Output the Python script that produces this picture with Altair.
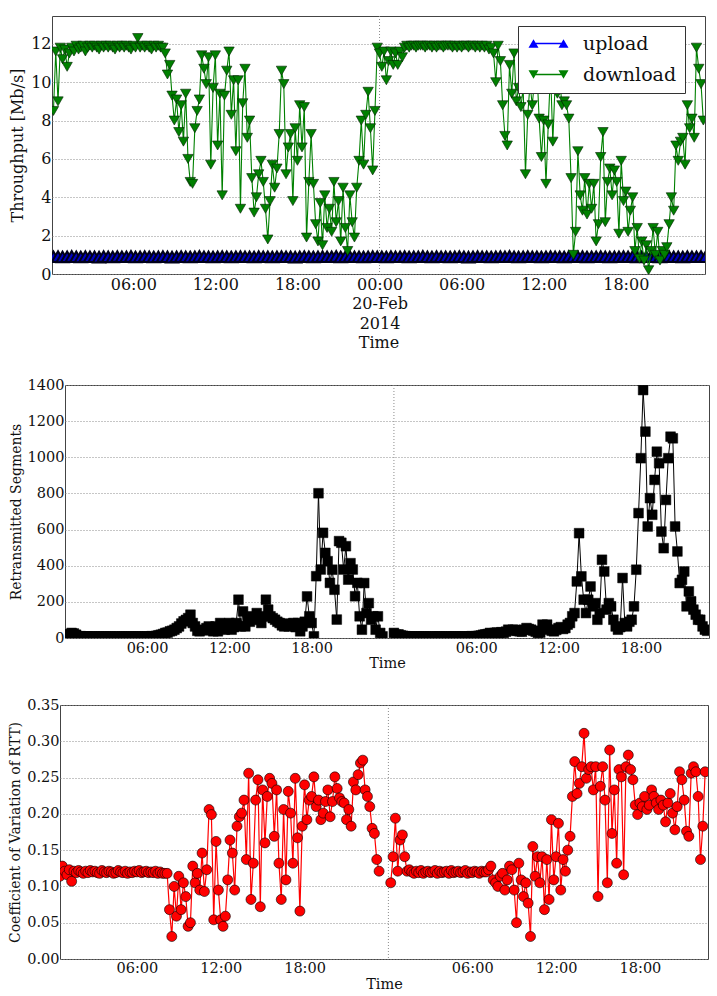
import altair as alt
import pandas as pd

FONT = "DejaVu Serif"
BASE = 1392768000000  # 2014-02-19 00:00 UTC, ms
MIN = 60000
HOUR = 3600000

# ---------------- Panel 1: throughput (Mb/s), 10-min samples from 00:10 on 19-Feb
DOWNLOAD_START_MIN = 10
DOWNLOAD = [
    8.5, 11.6, 9.0, 11.8, 11.2,
    11.7, 10.8, 11.5, 11.8, 11.6, 11.9,
    11.7, 11.8, 11.9, 11.6, 11.8, 11.9,
    11.8, 11.9, 11.8, 11.7, 11.9, 11.8,
    11.9, 11.8, 11.9, 11.8, 11.7, 11.9,
    11.8, 11.9, 11.8, 11.9, 11.8, 11.7,
    11.9, 11.8, 12.3, 11.8, 11.9, 11.8,
    11.9, 11.8, 11.7, 11.9, 11.8, 11.9,
    11.8, 11.8, 11.5, 10.4, 10.9, 9.3,
    8.0, 9.1, 7.4, 8.8, 6.9, 9.4,
    6.0, 4.8, 4.7, 7.6, 8.5, 9.1,
    11.4, 10.7, 9.9, 11.3, 5.7, 9.7,
    11.4, 6.7, 9.4, 4.1, 9.3, 10.6,
    11.6, 8.3, 10.1, 6.4, 10.1, 3.4,
    8.9, 10.7, 7.1, 8.0, 5.0, 3.2,
    4.0, 5.2, 5.9, 4.8, 3.4, 1.8,
    3.8, 5.7, 4.5, 5.5, 7.3, 10.6,
    9.9, 5.2, 6.6, 7.3, 3.8, 7.6,
    5.9, 8.8, 6.6, 8.7, 1.9, 4.8,
    7.3, 4.7, 2.6, 1.7, 3.7, 1.5,
    4.1, 2.4, 3.4, 2.2, 4.8, 2.7,
    3.8, 1.7, 4.5, 2.4, 1.2, 4.1,
    2.7, 1.9, 4.5, 5.9, 8.0, 5.7,
    8.3, 9.5, 7.6, 5.4, 8.5, 11.8,
    # 20-Feb
    11.5, 10.8, 11.6, 10.1, 11.1, 11.6,
    10.9, 11.5, 10.9, 11.6, 11.3, 11.8,
    11.9, 11.8, 11.9, 11.9, 11.8, 11.9,
    11.9, 11.9, 11.8, 11.9, 11.9, 11.8,
    11.9, 11.8, 11.9, 11.9, 11.8, 11.9,
    11.9, 11.9, 11.8, 11.9, 11.8, 11.9,
    11.8, 11.9, 11.9, 11.8, 11.9, 11.9,
    11.8, 11.9, 11.8, 11.9, 11.8, 11.9,
    11.7, 11.8, 11.5, 10.0, 11.9, 11.1,
    8.8, 7.2, 6.7, 10.9, 9.4, 11.5,
    9.0, 9.7, 8.7, 9.7, 5.2, 8.3,
    9.9, 8.8, 10.2, 10.7, 8.1, 6.1,
    8.0, 4.7, 7.8, 10.6, 6.9, 9.9,
    9.4, 10.2, 8.8, 9.0, 8.8, 8.1,
    5.0, 1.0, 2.2, 6.4, 4.1, 3.3,
    5.0, 3.1, 4.7, 3.4, 4.7, 1.7,
    2.6, 6.1, 7.4, 2.7, 4.8, 5.5,
    4.1, 5.4, 4.8, 2.1, 5.9, 3.8,
    4.3, 2.2, 3.3, 4.0, 1.2, 2.4,
    0.8, 1.7, 0.7, 1.5, 0.2, 1.2,
    2.4, 1.0, 2.2, 0.7, 1.2, 1.0,
    1.4, 2.6, 4.0, 3.3, 6.7, 5.9,
    6.9, 7.1, 5.7, 8.8, 7.6, 8.1,
    7.1, 11.8, 10.7, 9.9, 8.0,
]
UPLOAD_START_MIN = 10
UPLOAD_STEP_MIN = 20
UPLOAD = [
    0.90, 0.91, 0.89, 0.90, 0.92, 0.90, 0.89, 0.91, 0.90, 0.90, 0.88, 0.91,
    0.90, 0.89, 0.91, 0.90, 0.90, 0.92, 0.89, 0.90, 0.91, 0.90, 0.89, 0.90,
    0.91, 0.90, 0.88, 0.90, 0.91, 0.90, 0.89, 0.90, 0.92, 0.90, 0.90, 0.89,
    0.90, 0.91, 0.90, 0.89, 0.90, 0.91, 0.90, 0.90, 0.89, 0.91, 0.90, 0.90,
    0.89, 0.90, 0.91, 0.90, 0.90, 0.88, 0.90, 0.91, 0.90, 0.89, 0.90, 0.91,
    0.90, 0.90, 0.92, 0.89, 0.90, 0.91, 0.90, 0.90, 0.89, 0.90, 0.91, 0.90,
    0.90, 0.89, 0.91, 0.90, 0.90, 0.91, 0.89, 0.90, 0.90, 0.92, 0.90, 0.89,
    0.91, 0.90, 0.90, 0.89, 0.90, 0.91, 0.90, 0.88, 0.90, 0.91, 0.90, 0.90,
    0.89, 0.90, 0.91, 0.90, 0.92, 0.90, 0.89, 0.90, 0.91, 0.90, 0.90, 0.89,
    0.90, 0.91, 0.90, 0.90, 0.89, 0.91, 0.90, 0.90, 0.91, 0.89, 0.90, 0.90,
    0.91, 0.90, 0.89, 0.90, 0.90, 0.91, 0.90, 0.92, 0.89, 0.90, 0.90, 0.91,
    0.90, 0.89, 0.90, 0.91, 0.90, 0.90, 0.89, 0.91, 0.90, 0.90, 0.91, 0.90,
]
P1_TICKS_H = [6, 12, 18, 24, 30, 36, 42]
P1_DOMAIN_H = [0.06, 47.79]
P1_YTICKS = [0, 2, 4, 6, 8, 10, 12]
P1_YMAX = 13.45

# ---------------- Panel 2: retransmitted segments, 10-min samples
RETX_DAY1_START_MIN = 0
RETX_DAY1 = [
    18, 18, 20, 28, 25, 18,
    9, 10, 8, 9, 9, 8,
    8, 9, 7, 8, 9, 8,
    8, 7, 9, 8, 8, 7,
    8, 9, 8, 7, 8, 9,
    8, 8, 9, 8, 7, 8,
    9, 8, 10, 9, 12, 15,
    18, 22, 28, 30, 37, 40,
    46, 55, 64, 80, 92, 100,
    110, 129, 83, 64, 40, 37,
    46, 42, 55, 64, 50, 37,
    64, 37, 83, 70, 46, 60,
    83, 46, 60, 83, 212, 64,
    147, 64, 101, 90, 120, 110,
    138, 100, 83, 120, 212, 157,
    120, 110, 101, 90, 83, 70,
    64, 80, 64, 70, 83, 60,
    83, 37, 64, 90, 230, 120,
    83, 9, 342, 801, 379, 582,
    471, 425, 305, 378, 267, 102,
    536, 527, 379, 508, 323, 414,
    379, 231, 305, 120, 46, 304,
    138, 193, 101, 120, 46, 120,
    28, 9,
]
RETX_DAY2_START_MIN = 1440
RETX_DAY2 = [
    28, 18, 20, 15, 12, 10,
    9, 8, 9, 8, 9, 8,
    8, 9, 8, 7, 8, 9,
    8, 8, 9, 8, 7, 8,
    9, 8, 8, 9, 8, 8,
    9, 8, 8, 9, 10, 9,
    10, 12, 14, 18, 20, 22,
    28, 25, 28, 30, 28, 32,
    28, 35, 46, 40, 46, 45,
    40, 37, 35, 46, 55, 50,
    46, 40, 35, 28, 30, 74,
    60, 74, 46, 40, 37, 45,
    55, 60, 50, 55, 74, 83,
    120, 138, 313, 580, 341, 212,
    138, 212, 285, 175, 193, 101,
    138, 433, 368, 157, 193, 175,
    101, 64, 46, 60, 332, 83,
    64, 90, 101, 175, 378, 691,
    995, 1372, 1142, 617, 774, 682,
    875, 1031, 967, 589, 497, 764,
    995, 1114, 1105, 617, 479, 304,
    322, 368, 175, 258, 203, 157,
    129, 101, 101, 64, 46, 40,
]
P2_TICKS_H = [6, 12, 18, 30, 36, 42]
P2_DOMAIN_H = [0.02, 46.97]
P2_YTICKS = [0, 200, 400, 600, 800, 1000, 1200, 1400]

# ---------------- Panel 3: coefficient of variation of RTT, 10-min samples
CV_DAY1_START_MIN = 30
CV_DAY1 = [
    0.114, 0.128, 0.121,
    0.116, 0.123, 0.107, 0.121, 0.119, 0.122,
    0.120, 0.118, 0.121, 0.119, 0.122, 0.120,
    0.121, 0.119, 0.118, 0.122, 0.120, 0.119,
    0.121, 0.120, 0.118, 0.119, 0.122, 0.120,
    0.119, 0.121, 0.118, 0.120, 0.119, 0.121,
    0.120, 0.122, 0.119, 0.120, 0.121, 0.119,
    0.120, 0.119, 0.121, 0.118, 0.120, 0.118,
    0.118, 0.118, 0.068, 0.031, 0.100, 0.059,
    0.114, 0.068, 0.105, 0.086, 0.045, 0.050,
    0.128, 0.105, 0.118, 0.095, 0.146, 0.093,
    0.123, 0.206, 0.199, 0.054, 0.162, 0.095,
    0.054, 0.045, 0.059, 0.109, 0.164, 0.146,
    0.095, 0.183, 0.196, 0.201, 0.219, 0.137,
    0.256, 0.082, 0.132, 0.219, 0.247, 0.072,
    0.233, 0.160, 0.224, 0.249, 0.242, 0.169,
    0.233, 0.132, 0.082, 0.206, 0.109, 0.231,
    0.201, 0.132, 0.249, 0.167, 0.066, 0.183,
    0.240, 0.192, 0.219, 0.224, 0.251, 0.210,
    0.219, 0.192, 0.201, 0.217, 0.233, 0.196,
    0.217, 0.251, 0.235, 0.222, 0.217, 0.215,
    0.192, 0.206, 0.183, 0.244, 0.233, 0.254,
    0.270, 0.274, 0.233, 0.224, 0.210, 0.180,
    0.173, 0.137, 0.121,
]
CV_DAY2_START_MIN = 1450
CV_DAY2 = [
    0.105, 0.141, 0.194, 0.121, 0.164,
    0.171, 0.141, 0.121, 0.123, 0.120, 0.118,
    0.121, 0.119, 0.122, 0.118, 0.120, 0.121,
    0.119, 0.120, 0.122, 0.118, 0.121, 0.119,
    0.120, 0.121, 0.118, 0.122, 0.119, 0.120,
    0.121, 0.119, 0.120, 0.122, 0.118, 0.120,
    0.119, 0.121, 0.120, 0.118, 0.121, 0.120,
    0.120, 0.123, 0.128, 0.109, 0.105, 0.100,
    0.114, 0.118, 0.095, 0.109, 0.128, 0.123,
    0.095, 0.050, 0.132, 0.109, 0.086, 0.105,
    0.077, 0.031, 0.155, 0.114, 0.141, 0.105,
    0.141, 0.068, 0.137, 0.082, 0.192, 0.109,
    0.141, 0.187, 0.095, 0.137, 0.121, 0.150,
    0.169, 0.224, 0.272, 0.228, 0.242, 0.265,
    0.311, 0.249, 0.261, 0.265, 0.233, 0.265,
    0.086, 0.238, 0.265, 0.219, 0.105, 0.288,
    0.173, 0.233, 0.132, 0.261, 0.251, 0.116,
    0.265, 0.281, 0.261, 0.247, 0.212, 0.199,
    0.215, 0.210, 0.224, 0.206, 0.212, 0.233,
    0.224, 0.215, 0.206, 0.219, 0.212, 0.189,
    0.215, 0.228, 0.201, 0.178, 0.210, 0.258,
    0.247, 0.219, 0.176, 0.169, 0.256, 0.265,
    0.258, 0.224, 0.137, 0.183, 0.258,
]
P3_TICKS_H = [6, 12, 18, 30, 36, 42]
P3_DOMAIN_H = [0.5, 46.87]
P3_YTICKS = [0, 0.05, 0.10, 0.15, 0.20, 0.25, 0.30, 0.35]

MIDNIGHT_H = [24]
SERIES = ["upload", "download"]
SERIES_COLORS = ["#0000ff", "#008000"]

# legend symbols: line with a marker at each end (unit coords, r = sqrt(size)/2)
UP_PATH = "M-3,-0.87L-2,0.87L-4,0.87Z M3,-0.87L4,0.87L2,0.87Z M-3,-0.15L3,-0.15L3,0.15L-3,0.15Z"
DOWN_PATH = "M-4,-0.87L-2,-0.87L-3,0.87Z M2,-0.87L4,-0.87L3,0.87Z M-3,-0.15L3,-0.15L3,0.15L-3,0.15Z"


def frame(values, start_min, step_min, seg):
    return pd.DataFrame({
        "t": [BASE + (start_min + i * step_min) * MIN for i in range(len(values))],
        "v": values,
        "seg": seg,
    })


def hours(hs):
    return [BASE + int(h * HOUR) for h in hs]


def x_enc(domain_h, ticks_h, label_expr, fs, label_pad, title_pad, line_h):
    return alt.X(
        "t:T",
        scale=alt.Scale(type="utc", domain=hours(domain_h)),
        axis=alt.Axis(
            values=hours(ticks_h), labelExpr=label_expr, grid=False, ticks=False,
            domain=False, labelFont=FONT, labelFontSize=fs, labelColor="#111",
            labelPadding=label_pad, labelLineHeight=line_h, labelOverlap=False,
            labelFlush=False, title="Time", titleFont=FONT, titleFontSize=fs,
            titleFontWeight="normal", titleColor="#111", titlePadding=title_pad,
        ),
    )


def y_enc(ymax, ticks, fmt, title, fs, tfs, title_pad):
    return alt.Y(
        "v:Q",
        scale=alt.Scale(domain=[0, ymax], nice=False, zero=True),
        axis=alt.Axis(
            values=ticks, format=fmt, grid=True, gridDash=[1, 2], gridColor="#8c8c8c",
            gridWidth=1, ticks=False, domain=False, labelFont=FONT, labelFontSize=fs,
            labelColor="#111", labelPadding=1, labelFlush=False, title=title,
            titleFont=FONT, titleFontSize=tfs, titleFontWeight="normal",
            titleColor="#111", titlePadding=title_pad,
        ),
    )


def midnight_rule(X):
    df = pd.DataFrame({"t": hours(MIDNIGHT_H)})
    return alt.Chart(df).mark_rule(color="#8c8c8c", strokeDash=[1, 2], strokeWidth=1).encode(x=X)


def spacer(w):
    return alt.Chart(pd.DataFrame({"z": [0]})).mark_point(opacity=0).properties(
        width=w, height=10, view=alt.ViewBackground(stroke="transparent"))


# ---------- Panel 1
X1 = x_enc(P1_DOMAIN_H, P1_TICKS_H,
           "utchours(datum.value) == 0 ? [utcFormat(datum.value, '%H:%M'), utcFormat(datum.value, '%d-%b'), utcFormat(datum.value, '%Y')] : utcFormat(datum.value, '%H:%M')",
           16, 2, 3, 19.5)
Y1 = y_enc(P1_YMAX, P1_YTICKS, "d", "Throughput [Mb/s]", 16, 16, 5)

up_df = frame(UPLOAD, UPLOAD_START_MIN, UPLOAD_STEP_MIN, "u")
dn_df = frame(DOWNLOAD, DOWNLOAD_START_MIN, 10, "d")
leg_df = pd.DataFrame({"series": SERIES, "t": hours([1, 1]), "v": [1, 1]})

p1 = alt.layer(
    midnight_rule(X1),
    alt.Chart(up_df).mark_line(color="#0000ff", strokeWidth=1, clip=True).encode(x=X1, y=Y1),
    alt.Chart(up_df).mark_point(shape="triangle-up", filled=True, fill="#0000c0", stroke="#00001a",
                                strokeWidth=2.0, size=150, opacity=1, clip=True).encode(x=X1, y=Y1),
    alt.Chart(dn_df).mark_line(color="#008000", strokeWidth=1.1, clip=True).encode(x=X1, y=Y1),
    alt.Chart(dn_df).mark_point(shape="triangle-down", filled=True, fill="#008000", stroke="#002200",
                                strokeWidth=0.6, size=108, opacity=1, clip=True).encode(x=X1, y=Y1),
    alt.Chart(leg_df).transform_filter("false").mark_point(filled=True, opacity=1, size=100).encode(
        x=X1, y=Y1,
        color=alt.Color("series:N", scale=alt.Scale(domain=SERIES, range=SERIES_COLORS),
                        legend=alt.Legend(orient="none", legendX=517, legendY=10, title=None,
                                          padding=8, fillColor="white", strokeColor="#333",
                                          symbolSize=100, symbolOffset=13, labelOffset=25,
                                          symbolStrokeWidth=0, labelFont=FONT, labelFontSize=19,
                                          labelColor="#111", rowPadding=11, labelLimit=300)),
        shape=alt.Shape("series:N", scale=alt.Scale(domain=SERIES, range=[UP_PATH, DOWN_PATH])),
    ),
).properties(width=653, height=258)

# ---------- Panel 2
X2 = x_enc(P2_DOMAIN_H, P2_TICKS_H, "utcFormat(datum.value, '%H:%M')", 14.5, 3, 2, 16)
Y2 = y_enc(1400, P2_YTICKS, "d", "Retransmitted Segments", 14.5, 14, 4)
r_df = pd.concat([frame(RETX_DAY1, RETX_DAY1_START_MIN, 10, "a"),
                  frame(RETX_DAY2, RETX_DAY2_START_MIN, 10, "b")])
p2 = alt.layer(
    midnight_rule(X2),
    alt.Chart(r_df).mark_line(color="#000000", strokeWidth=1, clip=True).encode(x=X2, y=Y2, detail="seg:N"),
    alt.Chart(r_df).mark_point(shape="square", filled=True, fill="#000000", stroke="#000000",
                               strokeWidth=0.5, size=95, opacity=1, clip=True).encode(x=X2, y=Y2),
).properties(width=644, height=253)

# ---------- Panel 3
X3 = x_enc(P3_DOMAIN_H, P3_TICKS_H, "utcFormat(datum.value, '%H:%M')", 14.5, 2, 3, 16)
Y3 = y_enc(0.35, P3_YTICKS, ".2f", "Coefficient of Variation of RTT)", 14.5, 14, 4.5)
c_df = pd.concat([frame(CV_DAY1, CV_DAY1_START_MIN, 10, "a"),
                  frame(CV_DAY2, CV_DAY2_START_MIN, 10, "b")])
p3 = alt.layer(
    midnight_rule(X3),
    alt.Chart(c_df).mark_line(color="#ff0000", strokeWidth=1.2, clip=True).encode(x=X3, y=Y3, detail="seg:N"),
    alt.Chart(c_df).mark_point(shape="circle", filled=True, fill="#ff0000", stroke="#000000",
                               strokeWidth=0.6, size=100, opacity=1, clip=True).encode(x=X3, y=Y3),
).properties(width=648, height=254)

row1 = alt.hconcat(spacer(6.6), p1, spacing=0)
row2 = alt.hconcat(spacer(6.4), p2, spacing=0)
row3 = alt.hconcat(spacer(5.0), p3, spacing=0)

chart = alt.vconcat(row1, row2, row3, spacing=25).properties(
    padding={"left": 0, "top": 15, "right": 0, "bottom": 0},
    background="white",
).configure_view(stroke="#444444", strokeWidth=1)

chart.save("out.html", embed_options={"renderer": "svg", "actions": False})
